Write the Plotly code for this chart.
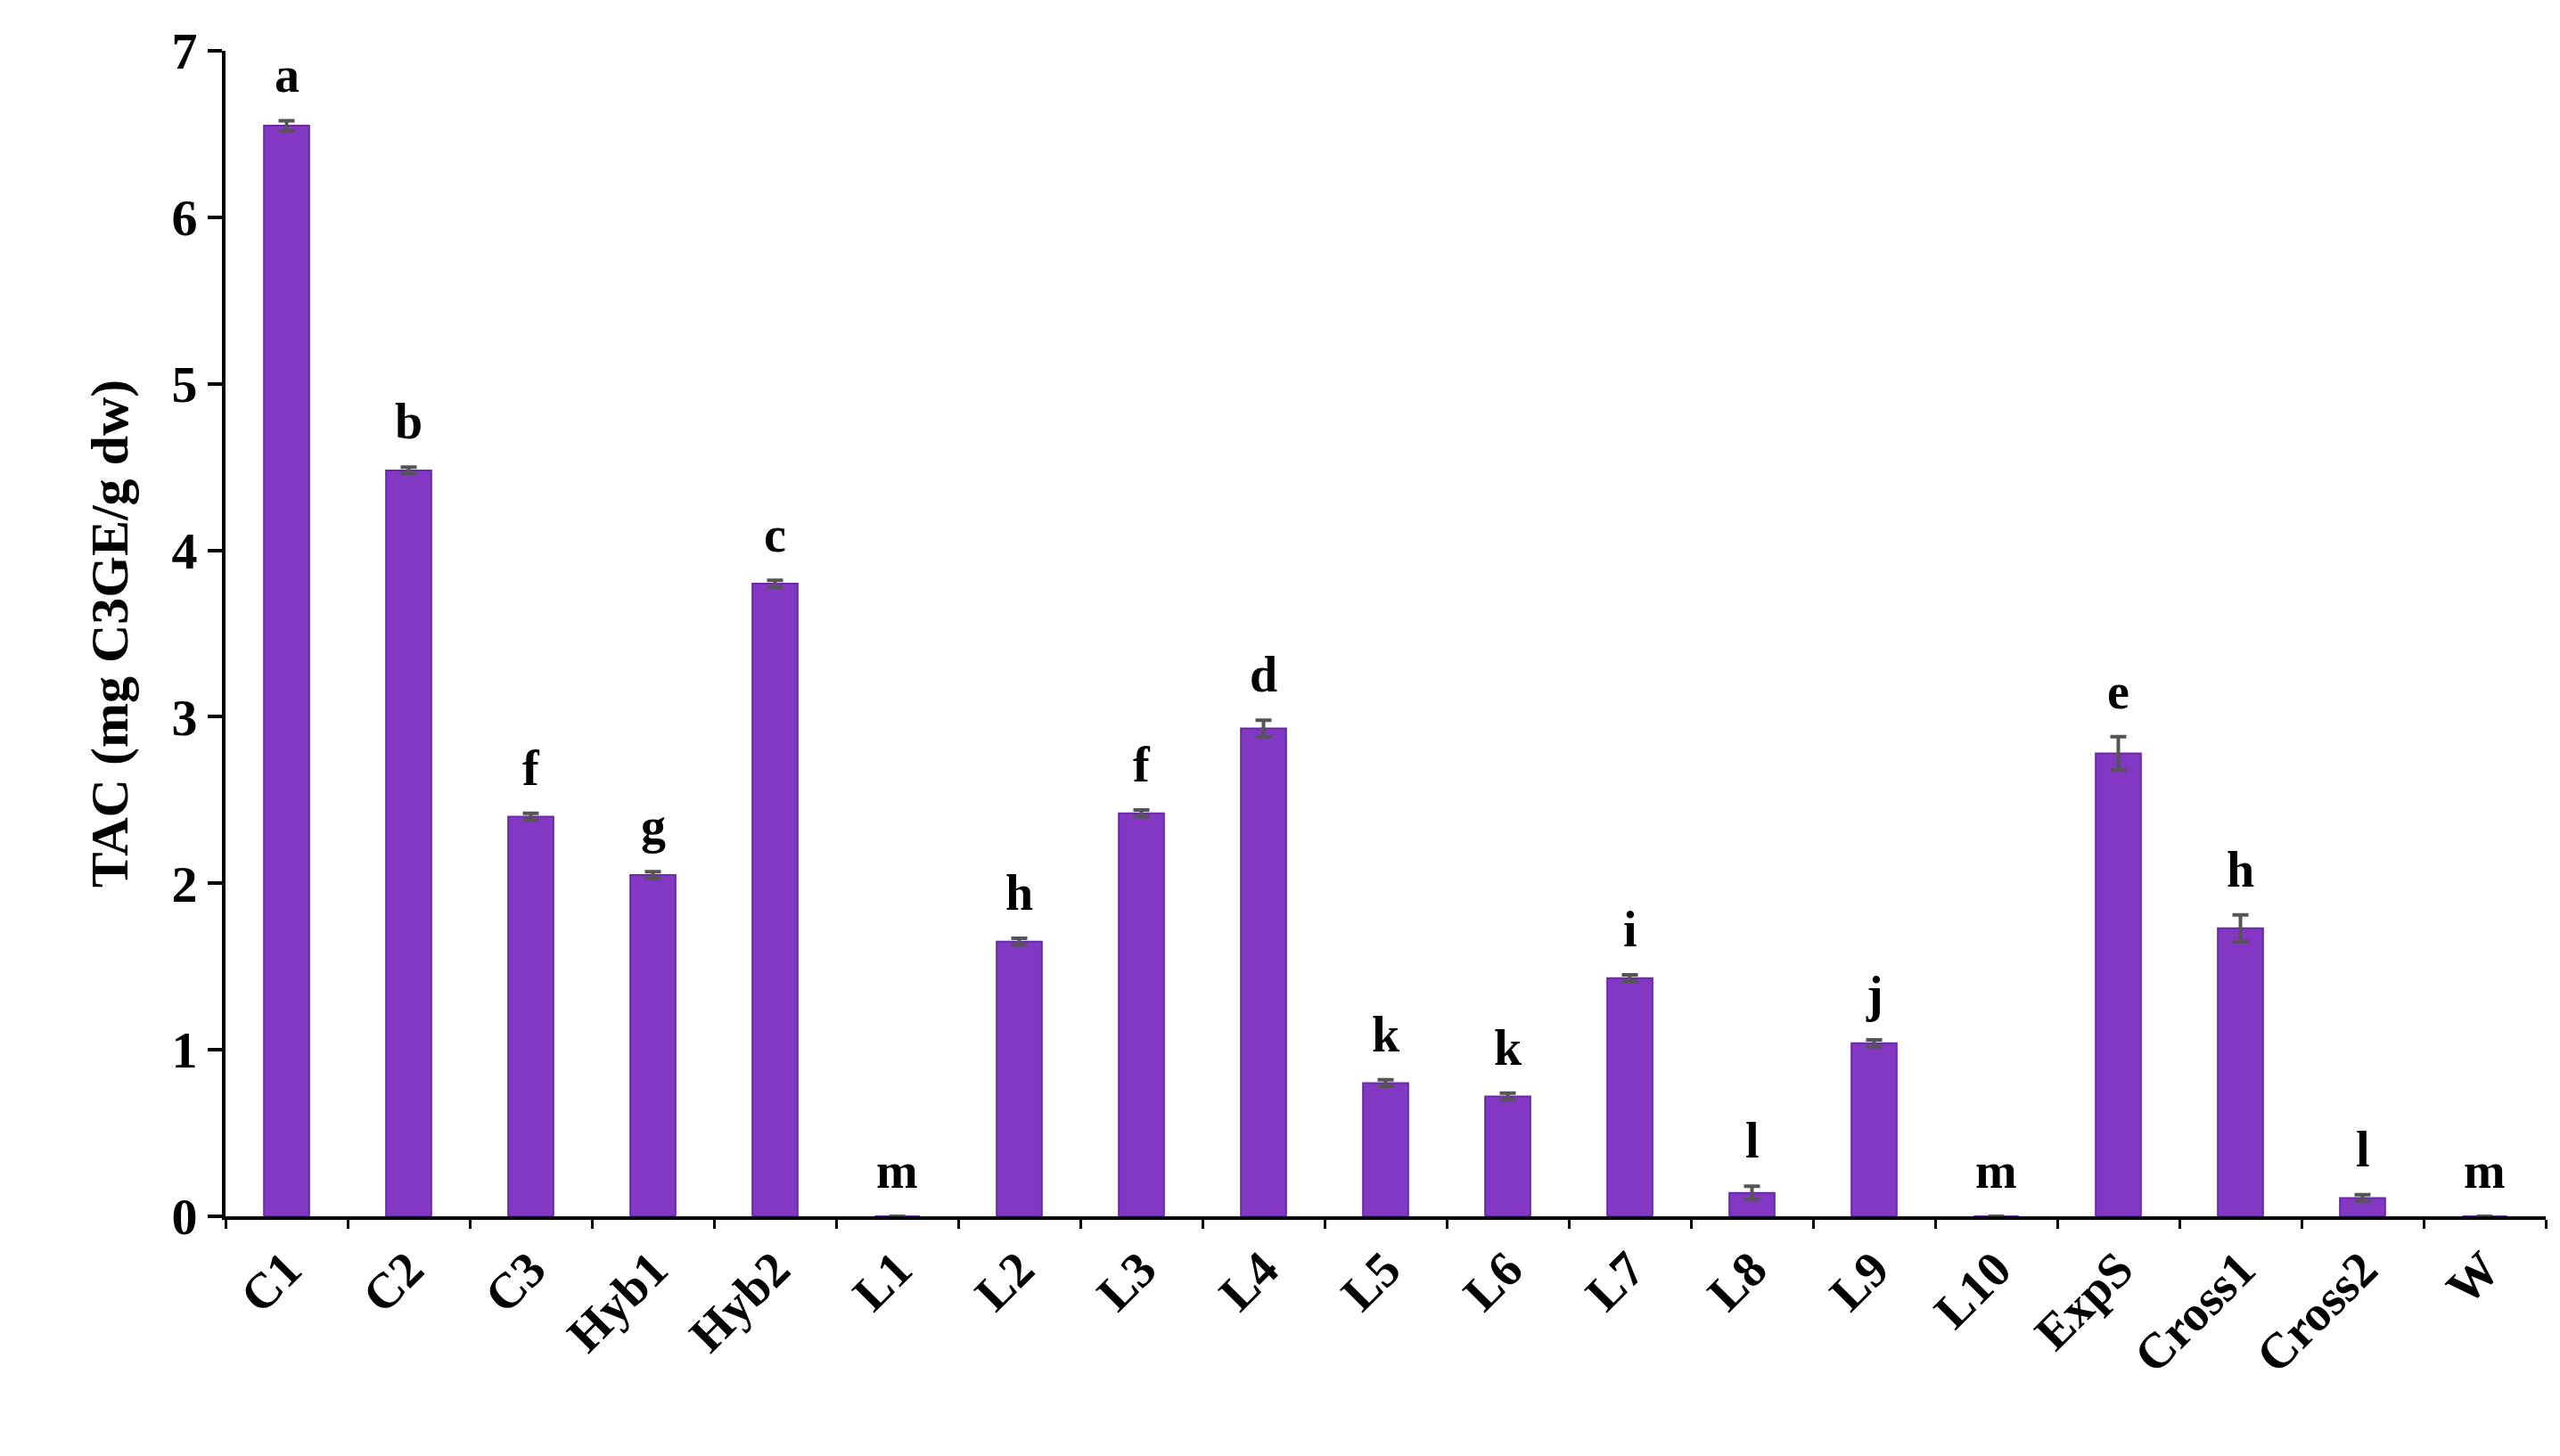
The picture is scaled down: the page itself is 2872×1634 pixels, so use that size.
import plotly.graph_objects as go

categories = ["C1","C2","C3","Hyb1","Hyb2","L1","L2","L3","L4","L5","L6","L7","L8","L9","L10","ExpS","Cross1","Cross2","W"]
values = [6.55,4.48,2.40,2.05,3.80,0,1.65,2.42,2.93,0.80,0.72,1.43,0.14,1.04,0,2.78,1.73,0.11,0]
errors = [0.03,0.02,0.02,0.02,0.02,0,0.02,0.02,0.05,0.02,0.02,0.02,0.04,0.02,0,0.10,0.08,0.02,0]
letters = ["a","b","f","g","c","m","h","f","d","k","k","i","l","j","m","e","h","l","m"]

font = "Liberation Serif"
fig = go.Figure(go.Bar(
    x=categories, y=values, width=0.37,
    marker=dict(color="#8338C4", line=dict(color="#6A2AA6", width=2)),
    error_y=dict(type="data", array=errors, visible=True, color="#555555", thickness=4, width=9),
))
for c, v, e, l in zip(categories, values, errors, letters):
    fig.add_annotation(x=c, y=v + e, text="<b>%s</b>" % l, showarrow=False,
                       yanchor="bottom", yshift=18, font=dict(family=font, size=56, color="black"))

fig.update_layout(
    width=2872, height=1634, paper_bgcolor="white", plot_bgcolor="white",
    margin=dict(l=245, r=24, t=49, b=277), showlegend=False,
    font=dict(family=font, color="black"),
)
fig.update_xaxes(showline=True, linecolor="black", linewidth=4, ticks="outside",
                 ticklen=10, tickwidth=3, tickcolor="black", tickson="boundaries",
                 tickangle=-45, tickfont=dict(family=font, size=56, color="black"),
                 tickprefix="<b>", ticksuffix="</b>")
fig.update_yaxes(range=[0, 7], dtick=1, showline=True, linecolor="black", linewidth=4,
                 ticks="outside", ticklen=16, tickwidth=4, tickcolor="black", showgrid=False,
                 zeroline=False, tickfont=dict(family=font, size=58, color="black"),
                 tickprefix="<b>", ticksuffix="</b>",
                 title=dict(text="<b>TAC (mg C3GE/g dw)</b>", font=dict(family=font, size=60, color="black"), standoff=30))
fig.write_html("out.html")
